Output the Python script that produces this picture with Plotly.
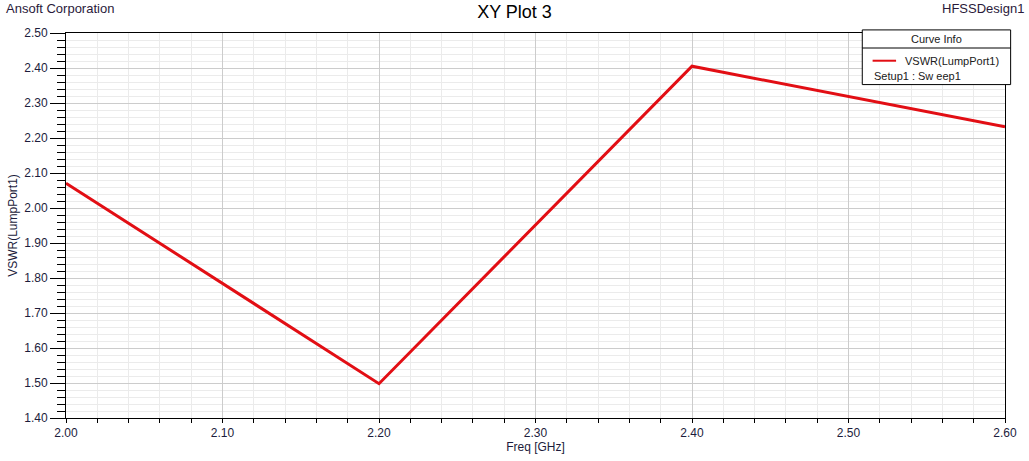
import plotly.graph_objects as go

# VSWR sweep
freq_ghz = [2.00, 2.20, 2.40, 2.60]
vswr = [2.071, 1.498, 2.405, 2.232]

x_ticks = [2.00, 2.10, 2.20, 2.30, 2.40, 2.50, 2.60]
y_ticks = [1.40, 1.50, 1.60, 1.70, 1.80, 1.90, 2.00, 2.10, 2.20, 2.30, 2.40, 2.50]

trace_name = "VSWR(LumpPort1)"
setup_name = "Setup1 : Sw eep1"

FONT = "Liberation Sans, Arial, sans-serif"
TXT = "#1c1c3c"
RED = "rgb(226,14,20)"

fig = go.Figure()
fig.add_trace(go.Scatter(
    x=freq_ghz, y=vswr, mode="lines", name=trace_name,
    line=dict(color=RED, width=3), showlegend=False
))

axis_common = dict(
    showline=True, linecolor="black", linewidth=1, mirror=True,
    ticks="outside", tickcolor="black", tickformat=".2f",
    showgrid=True, gridcolor="#cccccc", gridwidth=1,
    zeroline=False,
    tickfont=dict(family=FONT, size=12, color=TXT),
)

fig.update_xaxes(
    **axis_common,
    range=[2.0, 2.6], tickvals=x_ticks, ticklen=4,
    minor=dict(dtick=0.02, ticks="outside", ticklen=4, tickcolor="black",
               showgrid=True, gridcolor="#ebebeb"),
    title=dict(text="Freq [GHz]", font=dict(family=FONT, size=12, color=TXT), standoff=0),
)
fig.update_yaxes(
    **axis_common,
    range=[1.4, 2.5], tickvals=y_ticks, ticklen=15,
    minor=dict(dtick=0.02, ticks="outside", ticklen=8, tickcolor="black",
               showgrid=True, gridcolor="#ebebeb"),
    title=dict(text="VSWR(LumpPort1)", font=dict(family=FONT, size=12, color=TXT), standoff=4),
)

# curve info box (drawn by hand like the HFSS one)
L, R, T, B, SEP = 0.848, 1.006, 1.008, 0.866, 0.961
fig.add_shape(type="rect", xref="paper", yref="paper", x0=L, x1=R, y0=B, y1=T,
              line=dict(color="black", width=1), fillcolor="white", layer="above")
fig.add_shape(type="line", xref="paper", yref="paper", x0=L, x1=R, y0=SEP, y1=SEP,
              line=dict(color="black", width=1), layer="above")
fig.add_shape(type="line", xref="paper", yref="paper", x0=0.859, x1=0.884, y0=0.928, y1=0.928,
              line=dict(color=RED, width=2), layer="above")

annos = [
    dict(text="Curve Info", x=(L + R) / 2, y=(T + SEP) / 2, xanchor="center"),
    dict(text=trace_name, x=0.891, y=0.928, xanchor="left"),
    dict(text=setup_name, x=0.858, y=0.888, xanchor="left"),
]
for a in annos:
    fig.add_annotation(text=a["text"], xref="paper", yref="paper", x=a["x"], y=a["y"],
                       xanchor=a["xanchor"], yanchor="middle", showarrow=False,
                       font=dict(family=FONT, size=11, color="#202020"))

fig.add_annotation(text="Ansoft Corporation", xref="paper", yref="paper", x=-0.066, y=1.064,
                   xanchor="left", yanchor="middle", showarrow=False,
                   font=dict(family=FONT, size=13, color="#2a1a3a"))
fig.add_annotation(text="HFSSDesign1", xref="paper", yref="paper", x=1.022, y=1.064,
                   xanchor="right", yanchor="middle", showarrow=False,
                   font=dict(family=FONT, size=13, color="#2a1a3a"))

fig.update_layout(
    width=1029, height=461,
    title=dict(text="XY Plot 3", x=0.5, xanchor="center", y=0.975, yanchor="middle",
               font=dict(family=FONT, size=18, color="black")),
    margin=dict(l=63, r=24, t=33, b=35),
    plot_bgcolor="white", paper_bgcolor="white",
    showlegend=False,
)

# page body has a default margin; drop it so the figure sits at the window corner
fig.write_html("out.html", config={"displayModeBar": False},
               post_script="document.body.style.margin='0';")
